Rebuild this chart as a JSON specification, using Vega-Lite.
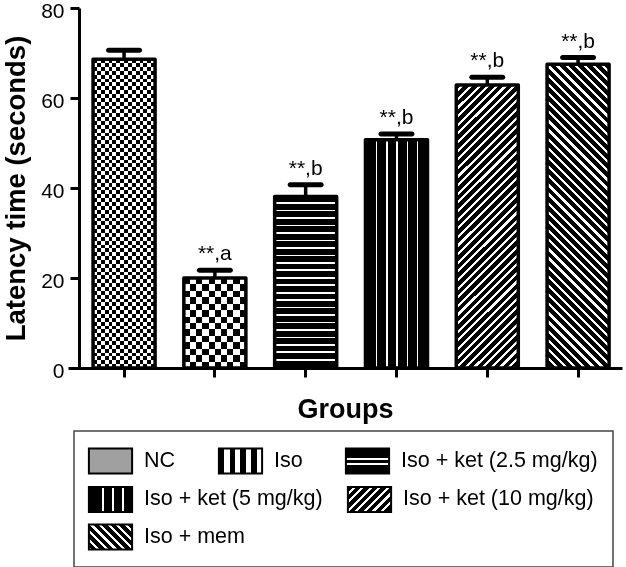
{
"$schema":"https://vega.github.io/schema/vega-lite/v6.json",
"autosize":"none",
"width":554,"height":360,
"padding":{"left":68,"top":8,"right":4,"bottom":199},
"background":"white",
"config":{"font":"Liberation Sans","view":{"stroke":null},
"legend":{"direction":"horizontal","orient":"none","symbolType":"M-1.6,-0.93H1.6V0.93H-1.6Z","symbolSize":729,"symbolOffset":7,"symbolStrokeColor":"black","symbolStrokeWidth":2,"labelOffset":19,"labelFontSize":21.5,"labelColor":"black","labelLimit":400,"strokeWidth":1.5}},
"data":{"values":[
{"group":"NC","mean":68.6,"upper":70.6,"label":""},
{"group":"Iso","mean":20.0,"upper":21.7,"label":"**,a"},
{"group":"Iso + ket (2.5 mg/kg)","mean":38.1,"upper":40.7,"label":"**,b"},
{"group":"Iso + ket (5 mg/kg)","mean":50.7,"upper":52.0,"label":"**,b"},
{"group":"Iso + ket (10 mg/kg)","mean":62.9,"upper":64.6,"label":"**,b"},
{"group":"Iso + mem","mean":67.5,"upper":69.0,"label":"**,b"}
]},
"encoding":{"x":{"field":"group","type":"nominal","sort":null,
"scale":{"paddingInner":0.317,"paddingOuter":0.209,"align":0.66},
"axis":{"title":"Groups","labels":false,"domainColor":"black","domainWidth":3,"tickColor":"black","tickWidth":3,"tickSize":9,"titleFontSize":27,"titleFontWeight":"bold","titleColor":"black","titlePadding":18}}},
"layer":[
{"transform":[{"filter":{"field":"group","oneOf":["NC","Iso","Iso + ket (2.5 mg/kg)"]}}],
"mark":{"type":"bar"},
"encoding":{
"y":{"field":"mean","type":"quantitative","title":"Latency time (seconds)","scale":{"domain":[0,80],"nice":false},
"axis":{"values":[0,20,40,60,80],"grid":false,"offset":-11,"domainColor":"black","domainWidth":3,"tickColor":"black","tickWidth":3,"tickSize":9,"labelFontSize":21,"labelColor":"black","labelPadding":6,"labelOffset":3,"titleFontSize":27.5,"titleFontWeight":"bold","titleColor":"black","titlePadding":10}},
"fill":{"field":"group","type":"nominal","scale":{"domain":["NC","Iso","Iso + ket (2.5 mg/kg)"],"range":["#a0a0a0",
{"expr":"{gradient:'linear',x1:0,y1:0,x2:1,y2:0,stops:[{offset:0.125,color:'#000'},{offset:0.125,color:'#fff'},{offset:0.25,color:'#fff'},{offset:0.25,color:'#000'},{offset:0.375,color:'#000'},{offset:0.375,color:'#fff'},{offset:0.5,color:'#fff'},{offset:0.5,color:'#000'},{offset:0.625,color:'#000'},{offset:0.625,color:'#fff'},{offset:0.75,color:'#fff'},{offset:0.75,color:'#000'},{offset:0.875,color:'#000'},{offset:0.875,color:'#fff'}]}"},
{"expr":"{gradient:'linear',x1:0,y1:0,x2:0,y2:1,stops:[{offset:0.4,color:'#000'},{offset:0.4,color:'#fff'},{offset:0.48,color:'#fff'},{offset:0.48,color:'#000'},{offset:0.6,color:'#000'},{offset:0.6,color:'#fff'},{offset:0.68,color:'#fff'},{offset:0.68,color:'#000'}]}"}]},
"legend":{"title":"                                ","titleOrient":"bottom","titleFontSize":58.3,"titlePadding":16,"legendX":6,"legendY":423,"padding":15,"columnPadding":38,"strokeColor":"#444"}}
}},
{"transform":[{"filter":{"field":"group","oneOf":["Iso + ket (5 mg/kg)","Iso + ket (10 mg/kg)"]}}],
"mark":{"type":"bar"},
"encoding":{
"y":{"field":"mean","type":"quantitative","title":"Latency time (seconds)"},
"fill":{"field":"group","type":"nominal","scale":{"domain":["Iso + ket (5 mg/kg)","Iso + ket (10 mg/kg)"],"range":[
{"expr":"{gradient:'linear',x1:0,y1:0,x2:1,y2:0,stops:[{offset:0.3,color:'#000'},{offset:0.3,color:'#fff'},{offset:0.35,color:'#fff'},{offset:0.35,color:'#000'},{offset:0.53,color:'#000'},{offset:0.53,color:'#fff'},{offset:0.58,color:'#fff'},{offset:0.58,color:'#000'},{offset:0.76,color:'#000'},{offset:0.76,color:'#fff'},{offset:0.81,color:'#fff'},{offset:0.81,color:'#000'}]}"},
{"expr":"{gradient:'linear',x1:0,y1:0,x2:1.182,y2:0.687,stops:[{offset:0.08,color:'#000'},{offset:0.08,color:'#fff'},{offset:0.125,color:'#fff'},{offset:0.125,color:'#000'},{offset:0.205,color:'#000'},{offset:0.205,color:'#fff'},{offset:0.25,color:'#fff'},{offset:0.25,color:'#000'},{offset:0.33,color:'#000'},{offset:0.33,color:'#fff'},{offset:0.375,color:'#fff'},{offset:0.375,color:'#000'},{offset:0.455,color:'#000'},{offset:0.455,color:'#fff'},{offset:0.5,color:'#fff'},{offset:0.5,color:'#000'},{offset:0.58,color:'#000'},{offset:0.58,color:'#fff'},{offset:0.625,color:'#fff'},{offset:0.625,color:'#000'},{offset:0.705,color:'#000'},{offset:0.705,color:'#fff'},{offset:0.75,color:'#fff'},{offset:0.75,color:'#000'},{offset:0.83,color:'#000'},{offset:0.83,color:'#fff'},{offset:0.875,color:'#fff'},{offset:0.875,color:'#000'},{offset:0.955,color:'#000'},{offset:0.955,color:'#fff'}]}"}]},
"legend":{"title":null,"legendX":21,"legendY":476.5,"padding":0,"columnPadding":20}}
}},
{"transform":[{"filter":{"field":"group","oneOf":["Iso + mem"]}}],
"mark":{"type":"bar"},
"encoding":{
"y":{"field":"mean","type":"quantitative","title":"Latency time (seconds)"},
"fill":{"field":"group","type":"nominal","scale":{"domain":["Iso + mem"],"range":[
{"expr":"{gradient:'linear',x1:1,y1:0,x2:-0.182,y2:0.687,stops:[{offset:0.08,color:'#000'},{offset:0.08,color:'#fff'},{offset:0.125,color:'#fff'},{offset:0.125,color:'#000'},{offset:0.205,color:'#000'},{offset:0.205,color:'#fff'},{offset:0.25,color:'#fff'},{offset:0.25,color:'#000'},{offset:0.33,color:'#000'},{offset:0.33,color:'#fff'},{offset:0.375,color:'#fff'},{offset:0.375,color:'#000'},{offset:0.455,color:'#000'},{offset:0.455,color:'#fff'},{offset:0.5,color:'#fff'},{offset:0.5,color:'#000'},{offset:0.58,color:'#000'},{offset:0.58,color:'#fff'},{offset:0.625,color:'#fff'},{offset:0.625,color:'#000'},{offset:0.705,color:'#000'},{offset:0.705,color:'#fff'},{offset:0.75,color:'#fff'},{offset:0.75,color:'#000'},{offset:0.83,color:'#000'},{offset:0.83,color:'#fff'},{offset:0.875,color:'#fff'},{offset:0.875,color:'#000'},{offset:0.955,color:'#000'},{offset:0.955,color:'#fff'}]}"}]},
"legend":{"title":null,"legendX":21,"legendY":514.5,"padding":0}}
}},
{"transform":[{"filter":"datum.group === 'NC'"}],
"mark":{"type":"bar","fill":{"gradient":"linear","x1":0,"y1":0,"x2":0,"y2":1,"stops":[
{"offset":0.0125,"color":"#000"},{"offset":0.0125,"color":"#fff"},{"offset":0.025,"color":"#fff"},{"offset":0.025,"color":"#000"},
{"offset":0.0375,"color":"#000"},{"offset":0.0375,"color":"#fff"},{"offset":0.05,"color":"#fff"},{"offset":0.05,"color":"#000"},
{"offset":0.0625,"color":"#000"},{"offset":0.0625,"color":"#fff"},{"offset":0.075,"color":"#fff"},{"offset":0.075,"color":"#000"},
{"offset":0.0875,"color":"#000"},{"offset":0.0875,"color":"#fff"},{"offset":0.1,"color":"#fff"},{"offset":0.1,"color":"#000"},
{"offset":0.1125,"color":"#000"},{"offset":0.1125,"color":"#fff"},{"offset":0.125,"color":"#fff"},{"offset":0.125,"color":"#000"},
{"offset":0.1375,"color":"#000"},{"offset":0.1375,"color":"#fff"},{"offset":0.15,"color":"#fff"},{"offset":0.15,"color":"#000"},
{"offset":0.1625,"color":"#000"},{"offset":0.1625,"color":"#fff"},{"offset":0.175,"color":"#fff"},{"offset":0.175,"color":"#000"},
{"offset":0.1875,"color":"#000"},{"offset":0.1875,"color":"#fff"},{"offset":0.2,"color":"#fff"},{"offset":0.2,"color":"#000"},
{"offset":0.2125,"color":"#000"},{"offset":0.2125,"color":"#fff"},{"offset":0.225,"color":"#fff"},{"offset":0.225,"color":"#000"},
{"offset":0.2375,"color":"#000"},{"offset":0.2375,"color":"#fff"},{"offset":0.25,"color":"#fff"},{"offset":0.25,"color":"#000"},
{"offset":0.2625,"color":"#000"},{"offset":0.2625,"color":"#fff"},{"offset":0.275,"color":"#fff"},{"offset":0.275,"color":"#000"},
{"offset":0.2875,"color":"#000"},{"offset":0.2875,"color":"#fff"},{"offset":0.3,"color":"#fff"},{"offset":0.3,"color":"#000"},
{"offset":0.3125,"color":"#000"},{"offset":0.3125,"color":"#fff"},{"offset":0.325,"color":"#fff"},{"offset":0.325,"color":"#000"},
{"offset":0.3375,"color":"#000"},{"offset":0.3375,"color":"#fff"},{"offset":0.35,"color":"#fff"},{"offset":0.35,"color":"#000"},
{"offset":0.3625,"color":"#000"},{"offset":0.3625,"color":"#fff"},{"offset":0.375,"color":"#fff"},{"offset":0.375,"color":"#000"},
{"offset":0.3875,"color":"#000"},{"offset":0.3875,"color":"#fff"},{"offset":0.4,"color":"#fff"},{"offset":0.4,"color":"#000"},
{"offset":0.4125,"color":"#000"},{"offset":0.4125,"color":"#fff"},{"offset":0.425,"color":"#fff"},{"offset":0.425,"color":"#000"},
{"offset":0.4375,"color":"#000"},{"offset":0.4375,"color":"#fff"},{"offset":0.45,"color":"#fff"},{"offset":0.45,"color":"#000"},
{"offset":0.4625,"color":"#000"},{"offset":0.4625,"color":"#fff"},{"offset":0.475,"color":"#fff"},{"offset":0.475,"color":"#000"},
{"offset":0.4875,"color":"#000"},{"offset":0.4875,"color":"#fff"},{"offset":0.5,"color":"#fff"},{"offset":0.5,"color":"#000"},
{"offset":0.5125,"color":"#000"},{"offset":0.5125,"color":"#fff"},{"offset":0.525,"color":"#fff"},{"offset":0.525,"color":"#000"},
{"offset":0.5375,"color":"#000"},{"offset":0.5375,"color":"#fff"},{"offset":0.55,"color":"#fff"},{"offset":0.55,"color":"#000"},
{"offset":0.5625,"color":"#000"},{"offset":0.5625,"color":"#fff"},{"offset":0.575,"color":"#fff"},{"offset":0.575,"color":"#000"},
{"offset":0.5875,"color":"#000"},{"offset":0.5875,"color":"#fff"},{"offset":0.6,"color":"#fff"},{"offset":0.6,"color":"#000"},
{"offset":0.6125,"color":"#000"},{"offset":0.6125,"color":"#fff"},{"offset":0.625,"color":"#fff"},{"offset":0.625,"color":"#000"},
{"offset":0.6375,"color":"#000"},{"offset":0.6375,"color":"#fff"},{"offset":0.65,"color":"#fff"},{"offset":0.65,"color":"#000"},
{"offset":0.6625,"color":"#000"},{"offset":0.6625,"color":"#fff"},{"offset":0.675,"color":"#fff"},{"offset":0.675,"color":"#000"},
{"offset":0.6875,"color":"#000"},{"offset":0.6875,"color":"#fff"},{"offset":0.7,"color":"#fff"},{"offset":0.7,"color":"#000"},
{"offset":0.7125,"color":"#000"},{"offset":0.7125,"color":"#fff"},{"offset":0.725,"color":"#fff"},{"offset":0.725,"color":"#000"},
{"offset":0.7375,"color":"#000"},{"offset":0.7375,"color":"#fff"},{"offset":0.75,"color":"#fff"},{"offset":0.75,"color":"#000"},
{"offset":0.7625,"color":"#000"},{"offset":0.7625,"color":"#fff"},{"offset":0.775,"color":"#fff"},{"offset":0.775,"color":"#000"},
{"offset":0.7875,"color":"#000"},{"offset":0.7875,"color":"#fff"},{"offset":0.8,"color":"#fff"},{"offset":0.8,"color":"#000"},
{"offset":0.8125,"color":"#000"},{"offset":0.8125,"color":"#fff"},{"offset":0.825,"color":"#fff"},{"offset":0.825,"color":"#000"},
{"offset":0.8375,"color":"#000"},{"offset":0.8375,"color":"#fff"},{"offset":0.85,"color":"#fff"},{"offset":0.85,"color":"#000"},
{"offset":0.8625,"color":"#000"},{"offset":0.8625,"color":"#fff"},{"offset":0.875,"color":"#fff"},{"offset":0.875,"color":"#000"},
{"offset":0.8875,"color":"#000"},{"offset":0.8875,"color":"#fff"},{"offset":0.9,"color":"#fff"},{"offset":0.9,"color":"#000"},
{"offset":0.9125,"color":"#000"},{"offset":0.9125,"color":"#fff"},{"offset":0.925,"color":"#fff"},{"offset":0.925,"color":"#000"},
{"offset":0.9375,"color":"#000"},{"offset":0.9375,"color":"#fff"},{"offset":0.95,"color":"#fff"},{"offset":0.95,"color":"#000"},
{"offset":0.9625,"color":"#000"},{"offset":0.9625,"color":"#fff"},{"offset":0.975,"color":"#fff"},{"offset":0.975,"color":"#000"},
{"offset":0.9875,"color":"#000"},{"offset":0.9875,"color":"#fff"}]}},
"encoding":{"y":{"field":"mean","type":"quantitative","title":"Latency time (seconds)"}}},
{"transform":[{"filter":"datum.group === 'Iso'"}],
"mark":{"type":"bar","fill":{"gradient":"linear","x1":0,"y1":0,"x2":0,"y2":1,"stops":[
{"offset":0.0714,"color":"#000"},{"offset":0.0714,"color":"#fff"},{"offset":0.1429,"color":"#fff"},{"offset":0.1429,"color":"#000"},
{"offset":0.2143,"color":"#000"},{"offset":0.2143,"color":"#fff"},{"offset":0.2857,"color":"#fff"},{"offset":0.2857,"color":"#000"},
{"offset":0.3571,"color":"#000"},{"offset":0.3571,"color":"#fff"},{"offset":0.4286,"color":"#fff"},{"offset":0.4286,"color":"#000"},
{"offset":0.5,"color":"#000"},{"offset":0.5,"color":"#fff"},{"offset":0.5714,"color":"#fff"},{"offset":0.5714,"color":"#000"},
{"offset":0.6429,"color":"#000"},{"offset":0.6429,"color":"#fff"},{"offset":0.7143,"color":"#fff"},{"offset":0.7143,"color":"#000"},
{"offset":0.7857,"color":"#000"},{"offset":0.7857,"color":"#fff"},{"offset":0.8571,"color":"#fff"},{"offset":0.8571,"color":"#000"},
{"offset":0.9286,"color":"#000"},{"offset":0.9286,"color":"#fff"}]}},
"encoding":{"y":{"field":"mean","type":"quantitative","title":"Latency time (seconds)"}}},
{"transform":[{"filter":"datum.group === 'Iso + ket (2.5 mg/kg)'"}],
"mark":{"type":"bar","fill":{"gradient":"linear","x1":0,"y1":0,"x2":0,"y2":1,"stops":[
{"offset":0.0335,"color":"#000"},{"offset":0.0335,"color":"#fff"},{"offset":0.0435,"color":"#fff"},{"offset":0.0435,"color":"#000"},
{"offset":0.077,"color":"#000"},{"offset":0.077,"color":"#fff"},{"offset":0.087,"color":"#fff"},{"offset":0.087,"color":"#000"},
{"offset":0.1205,"color":"#000"},{"offset":0.1205,"color":"#fff"},{"offset":0.1305,"color":"#fff"},{"offset":0.1305,"color":"#000"},
{"offset":0.164,"color":"#000"},{"offset":0.164,"color":"#fff"},{"offset":0.174,"color":"#fff"},{"offset":0.174,"color":"#000"},
{"offset":0.2075,"color":"#000"},{"offset":0.2075,"color":"#fff"},{"offset":0.2175,"color":"#fff"},{"offset":0.2175,"color":"#000"},
{"offset":0.251,"color":"#000"},{"offset":0.251,"color":"#fff"},{"offset":0.261,"color":"#fff"},{"offset":0.261,"color":"#000"},
{"offset":0.2945,"color":"#000"},{"offset":0.2945,"color":"#fff"},{"offset":0.3045,"color":"#fff"},{"offset":0.3045,"color":"#000"},
{"offset":0.338,"color":"#000"},{"offset":0.338,"color":"#fff"},{"offset":0.348,"color":"#fff"},{"offset":0.348,"color":"#000"},
{"offset":0.3815,"color":"#000"},{"offset":0.3815,"color":"#fff"},{"offset":0.3915,"color":"#fff"},{"offset":0.3915,"color":"#000"},
{"offset":0.425,"color":"#000"},{"offset":0.425,"color":"#fff"},{"offset":0.435,"color":"#fff"},{"offset":0.435,"color":"#000"},
{"offset":0.4685,"color":"#000"},{"offset":0.4685,"color":"#fff"},{"offset":0.4785,"color":"#fff"},{"offset":0.4785,"color":"#000"},
{"offset":0.512,"color":"#000"},{"offset":0.512,"color":"#fff"},{"offset":0.522,"color":"#fff"},{"offset":0.522,"color":"#000"},
{"offset":0.5555,"color":"#000"},{"offset":0.5555,"color":"#fff"},{"offset":0.5655,"color":"#fff"},{"offset":0.5655,"color":"#000"},
{"offset":0.599,"color":"#000"},{"offset":0.599,"color":"#fff"},{"offset":0.609,"color":"#fff"},{"offset":0.609,"color":"#000"},
{"offset":0.6425,"color":"#000"},{"offset":0.6425,"color":"#fff"},{"offset":0.6525,"color":"#fff"},{"offset":0.6525,"color":"#000"},
{"offset":0.686,"color":"#000"},{"offset":0.686,"color":"#fff"},{"offset":0.696,"color":"#fff"},{"offset":0.696,"color":"#000"},
{"offset":0.7295,"color":"#000"},{"offset":0.7295,"color":"#fff"},{"offset":0.7395,"color":"#fff"},{"offset":0.7395,"color":"#000"},
{"offset":0.773,"color":"#000"},{"offset":0.773,"color":"#fff"},{"offset":0.783,"color":"#fff"},{"offset":0.783,"color":"#000"},
{"offset":0.8165,"color":"#000"},{"offset":0.8165,"color":"#fff"},{"offset":0.8265,"color":"#fff"},{"offset":0.8265,"color":"#000"},
{"offset":0.86,"color":"#000"},{"offset":0.86,"color":"#fff"},{"offset":0.87,"color":"#fff"},{"offset":0.87,"color":"#000"},
{"offset":0.9035,"color":"#000"},{"offset":0.9035,"color":"#fff"},{"offset":0.9135,"color":"#fff"},{"offset":0.9135,"color":"#000"},
{"offset":0.947,"color":"#000"},{"offset":0.947,"color":"#fff"},{"offset":0.957,"color":"#fff"},{"offset":0.957,"color":"#000"}]}},
"encoding":{"y":{"field":"mean","type":"quantitative","title":"Latency time (seconds)"}}},
{"transform":[{"filter":"datum.group === 'Iso + ket (5 mg/kg)'"}],
"mark":{"type":"bar","fill":{"gradient":"linear","x1":0,"y1":0,"x2":1,"y2":0,"stops":[
{"offset":0.165,"color":"#000"},{"offset":0.165,"color":"#fff"},{"offset":0.19,"color":"#fff"},{"offset":0.19,"color":"#000"},
{"offset":0.335,"color":"#000"},{"offset":0.335,"color":"#fff"},{"offset":0.36,"color":"#fff"},{"offset":0.36,"color":"#000"},
{"offset":0.5,"color":"#000"},{"offset":0.5,"color":"#fff"},{"offset":0.525,"color":"#fff"},{"offset":0.525,"color":"#000"},
{"offset":0.665,"color":"#000"},{"offset":0.665,"color":"#fff"},{"offset":0.69,"color":"#fff"},{"offset":0.69,"color":"#000"},
{"offset":0.83,"color":"#000"},{"offset":0.83,"color":"#fff"},{"offset":0.855,"color":"#fff"},{"offset":0.855,"color":"#000"}]}},
"encoding":{"y":{"field":"mean","type":"quantitative","title":"Latency time (seconds)"}}},
{"transform":[{"filter":"datum.group === 'Iso + ket (10 mg/kg)'"}],
"mark":{"type":"bar","fill":{"gradient":"linear","x1":0,"y1":0,"x2":0.2544,"y2":1.1631,"stops":[
{"offset":0.016,"color":"#000"},{"offset":0.016,"color":"#fff"},{"offset":0.025,"color":"#fff"},{"offset":0.025,"color":"#000"},
{"offset":0.041,"color":"#000"},{"offset":0.041,"color":"#fff"},{"offset":0.05,"color":"#fff"},{"offset":0.05,"color":"#000"},
{"offset":0.066,"color":"#000"},{"offset":0.066,"color":"#fff"},{"offset":0.075,"color":"#fff"},{"offset":0.075,"color":"#000"},
{"offset":0.091,"color":"#000"},{"offset":0.091,"color":"#fff"},{"offset":0.1,"color":"#fff"},{"offset":0.1,"color":"#000"},
{"offset":0.116,"color":"#000"},{"offset":0.116,"color":"#fff"},{"offset":0.125,"color":"#fff"},{"offset":0.125,"color":"#000"},
{"offset":0.141,"color":"#000"},{"offset":0.141,"color":"#fff"},{"offset":0.15,"color":"#fff"},{"offset":0.15,"color":"#000"},
{"offset":0.166,"color":"#000"},{"offset":0.166,"color":"#fff"},{"offset":0.175,"color":"#fff"},{"offset":0.175,"color":"#000"},
{"offset":0.191,"color":"#000"},{"offset":0.191,"color":"#fff"},{"offset":0.2,"color":"#fff"},{"offset":0.2,"color":"#000"},
{"offset":0.216,"color":"#000"},{"offset":0.216,"color":"#fff"},{"offset":0.225,"color":"#fff"},{"offset":0.225,"color":"#000"},
{"offset":0.241,"color":"#000"},{"offset":0.241,"color":"#fff"},{"offset":0.25,"color":"#fff"},{"offset":0.25,"color":"#000"},
{"offset":0.266,"color":"#000"},{"offset":0.266,"color":"#fff"},{"offset":0.275,"color":"#fff"},{"offset":0.275,"color":"#000"},
{"offset":0.291,"color":"#000"},{"offset":0.291,"color":"#fff"},{"offset":0.3,"color":"#fff"},{"offset":0.3,"color":"#000"},
{"offset":0.316,"color":"#000"},{"offset":0.316,"color":"#fff"},{"offset":0.325,"color":"#fff"},{"offset":0.325,"color":"#000"},
{"offset":0.341,"color":"#000"},{"offset":0.341,"color":"#fff"},{"offset":0.35,"color":"#fff"},{"offset":0.35,"color":"#000"},
{"offset":0.366,"color":"#000"},{"offset":0.366,"color":"#fff"},{"offset":0.375,"color":"#fff"},{"offset":0.375,"color":"#000"},
{"offset":0.391,"color":"#000"},{"offset":0.391,"color":"#fff"},{"offset":0.4,"color":"#fff"},{"offset":0.4,"color":"#000"},
{"offset":0.416,"color":"#000"},{"offset":0.416,"color":"#fff"},{"offset":0.425,"color":"#fff"},{"offset":0.425,"color":"#000"},
{"offset":0.441,"color":"#000"},{"offset":0.441,"color":"#fff"},{"offset":0.45,"color":"#fff"},{"offset":0.45,"color":"#000"},
{"offset":0.466,"color":"#000"},{"offset":0.466,"color":"#fff"},{"offset":0.475,"color":"#fff"},{"offset":0.475,"color":"#000"},
{"offset":0.491,"color":"#000"},{"offset":0.491,"color":"#fff"},{"offset":0.5,"color":"#fff"},{"offset":0.5,"color":"#000"},
{"offset":0.516,"color":"#000"},{"offset":0.516,"color":"#fff"},{"offset":0.525,"color":"#fff"},{"offset":0.525,"color":"#000"},
{"offset":0.541,"color":"#000"},{"offset":0.541,"color":"#fff"},{"offset":0.55,"color":"#fff"},{"offset":0.55,"color":"#000"},
{"offset":0.566,"color":"#000"},{"offset":0.566,"color":"#fff"},{"offset":0.575,"color":"#fff"},{"offset":0.575,"color":"#000"},
{"offset":0.591,"color":"#000"},{"offset":0.591,"color":"#fff"},{"offset":0.6,"color":"#fff"},{"offset":0.6,"color":"#000"},
{"offset":0.616,"color":"#000"},{"offset":0.616,"color":"#fff"},{"offset":0.625,"color":"#fff"},{"offset":0.625,"color":"#000"},
{"offset":0.641,"color":"#000"},{"offset":0.641,"color":"#fff"},{"offset":0.65,"color":"#fff"},{"offset":0.65,"color":"#000"},
{"offset":0.666,"color":"#000"},{"offset":0.666,"color":"#fff"},{"offset":0.675,"color":"#fff"},{"offset":0.675,"color":"#000"},
{"offset":0.691,"color":"#000"},{"offset":0.691,"color":"#fff"},{"offset":0.7,"color":"#fff"},{"offset":0.7,"color":"#000"},
{"offset":0.716,"color":"#000"},{"offset":0.716,"color":"#fff"},{"offset":0.725,"color":"#fff"},{"offset":0.725,"color":"#000"},
{"offset":0.741,"color":"#000"},{"offset":0.741,"color":"#fff"},{"offset":0.75,"color":"#fff"},{"offset":0.75,"color":"#000"},
{"offset":0.766,"color":"#000"},{"offset":0.766,"color":"#fff"},{"offset":0.775,"color":"#fff"},{"offset":0.775,"color":"#000"},
{"offset":0.791,"color":"#000"},{"offset":0.791,"color":"#fff"},{"offset":0.8,"color":"#fff"},{"offset":0.8,"color":"#000"},
{"offset":0.816,"color":"#000"},{"offset":0.816,"color":"#fff"},{"offset":0.825,"color":"#fff"},{"offset":0.825,"color":"#000"},
{"offset":0.841,"color":"#000"},{"offset":0.841,"color":"#fff"},{"offset":0.85,"color":"#fff"},{"offset":0.85,"color":"#000"},
{"offset":0.866,"color":"#000"},{"offset":0.866,"color":"#fff"},{"offset":0.875,"color":"#fff"},{"offset":0.875,"color":"#000"},
{"offset":0.891,"color":"#000"},{"offset":0.891,"color":"#fff"},{"offset":0.9,"color":"#fff"},{"offset":0.9,"color":"#000"},
{"offset":0.916,"color":"#000"},{"offset":0.916,"color":"#fff"},{"offset":0.925,"color":"#fff"},{"offset":0.925,"color":"#000"},
{"offset":0.941,"color":"#000"},{"offset":0.941,"color":"#fff"},{"offset":0.95,"color":"#fff"},{"offset":0.95,"color":"#000"},
{"offset":0.966,"color":"#000"},{"offset":0.966,"color":"#fff"},{"offset":0.975,"color":"#fff"},{"offset":0.975,"color":"#000"},
{"offset":0.991,"color":"#000"},{"offset":0.991,"color":"#fff"}]}},
"encoding":{"y":{"field":"mean","type":"quantitative","title":"Latency time (seconds)"}}},
{"transform":[{"filter":"datum.group === 'Iso + mem'"}],
"mark":{"type":"bar","fill":{"gradient":"linear","x1":1,"y1":0,"x2":0.764,"y2":1.156,"stops":[
{"offset":0.016,"color":"#000"},{"offset":0.016,"color":"#fff"},{"offset":0.025,"color":"#fff"},{"offset":0.025,"color":"#000"},
{"offset":0.041,"color":"#000"},{"offset":0.041,"color":"#fff"},{"offset":0.05,"color":"#fff"},{"offset":0.05,"color":"#000"},
{"offset":0.066,"color":"#000"},{"offset":0.066,"color":"#fff"},{"offset":0.075,"color":"#fff"},{"offset":0.075,"color":"#000"},
{"offset":0.091,"color":"#000"},{"offset":0.091,"color":"#fff"},{"offset":0.1,"color":"#fff"},{"offset":0.1,"color":"#000"},
{"offset":0.116,"color":"#000"},{"offset":0.116,"color":"#fff"},{"offset":0.125,"color":"#fff"},{"offset":0.125,"color":"#000"},
{"offset":0.141,"color":"#000"},{"offset":0.141,"color":"#fff"},{"offset":0.15,"color":"#fff"},{"offset":0.15,"color":"#000"},
{"offset":0.166,"color":"#000"},{"offset":0.166,"color":"#fff"},{"offset":0.175,"color":"#fff"},{"offset":0.175,"color":"#000"},
{"offset":0.191,"color":"#000"},{"offset":0.191,"color":"#fff"},{"offset":0.2,"color":"#fff"},{"offset":0.2,"color":"#000"},
{"offset":0.216,"color":"#000"},{"offset":0.216,"color":"#fff"},{"offset":0.225,"color":"#fff"},{"offset":0.225,"color":"#000"},
{"offset":0.241,"color":"#000"},{"offset":0.241,"color":"#fff"},{"offset":0.25,"color":"#fff"},{"offset":0.25,"color":"#000"},
{"offset":0.266,"color":"#000"},{"offset":0.266,"color":"#fff"},{"offset":0.275,"color":"#fff"},{"offset":0.275,"color":"#000"},
{"offset":0.291,"color":"#000"},{"offset":0.291,"color":"#fff"},{"offset":0.3,"color":"#fff"},{"offset":0.3,"color":"#000"},
{"offset":0.316,"color":"#000"},{"offset":0.316,"color":"#fff"},{"offset":0.325,"color":"#fff"},{"offset":0.325,"color":"#000"},
{"offset":0.341,"color":"#000"},{"offset":0.341,"color":"#fff"},{"offset":0.35,"color":"#fff"},{"offset":0.35,"color":"#000"},
{"offset":0.366,"color":"#000"},{"offset":0.366,"color":"#fff"},{"offset":0.375,"color":"#fff"},{"offset":0.375,"color":"#000"},
{"offset":0.391,"color":"#000"},{"offset":0.391,"color":"#fff"},{"offset":0.4,"color":"#fff"},{"offset":0.4,"color":"#000"},
{"offset":0.416,"color":"#000"},{"offset":0.416,"color":"#fff"},{"offset":0.425,"color":"#fff"},{"offset":0.425,"color":"#000"},
{"offset":0.441,"color":"#000"},{"offset":0.441,"color":"#fff"},{"offset":0.45,"color":"#fff"},{"offset":0.45,"color":"#000"},
{"offset":0.466,"color":"#000"},{"offset":0.466,"color":"#fff"},{"offset":0.475,"color":"#fff"},{"offset":0.475,"color":"#000"},
{"offset":0.491,"color":"#000"},{"offset":0.491,"color":"#fff"},{"offset":0.5,"color":"#fff"},{"offset":0.5,"color":"#000"},
{"offset":0.516,"color":"#000"},{"offset":0.516,"color":"#fff"},{"offset":0.525,"color":"#fff"},{"offset":0.525,"color":"#000"},
{"offset":0.541,"color":"#000"},{"offset":0.541,"color":"#fff"},{"offset":0.55,"color":"#fff"},{"offset":0.55,"color":"#000"},
{"offset":0.566,"color":"#000"},{"offset":0.566,"color":"#fff"},{"offset":0.575,"color":"#fff"},{"offset":0.575,"color":"#000"},
{"offset":0.591,"color":"#000"},{"offset":0.591,"color":"#fff"},{"offset":0.6,"color":"#fff"},{"offset":0.6,"color":"#000"},
{"offset":0.616,"color":"#000"},{"offset":0.616,"color":"#fff"},{"offset":0.625,"color":"#fff"},{"offset":0.625,"color":"#000"},
{"offset":0.641,"color":"#000"},{"offset":0.641,"color":"#fff"},{"offset":0.65,"color":"#fff"},{"offset":0.65,"color":"#000"},
{"offset":0.666,"color":"#000"},{"offset":0.666,"color":"#fff"},{"offset":0.675,"color":"#fff"},{"offset":0.675,"color":"#000"},
{"offset":0.691,"color":"#000"},{"offset":0.691,"color":"#fff"},{"offset":0.7,"color":"#fff"},{"offset":0.7,"color":"#000"},
{"offset":0.716,"color":"#000"},{"offset":0.716,"color":"#fff"},{"offset":0.725,"color":"#fff"},{"offset":0.725,"color":"#000"},
{"offset":0.741,"color":"#000"},{"offset":0.741,"color":"#fff"},{"offset":0.75,"color":"#fff"},{"offset":0.75,"color":"#000"},
{"offset":0.766,"color":"#000"},{"offset":0.766,"color":"#fff"},{"offset":0.775,"color":"#fff"},{"offset":0.775,"color":"#000"},
{"offset":0.791,"color":"#000"},{"offset":0.791,"color":"#fff"},{"offset":0.8,"color":"#fff"},{"offset":0.8,"color":"#000"},
{"offset":0.816,"color":"#000"},{"offset":0.816,"color":"#fff"},{"offset":0.825,"color":"#fff"},{"offset":0.825,"color":"#000"},
{"offset":0.841,"color":"#000"},{"offset":0.841,"color":"#fff"},{"offset":0.85,"color":"#fff"},{"offset":0.85,"color":"#000"},
{"offset":0.866,"color":"#000"},{"offset":0.866,"color":"#fff"},{"offset":0.875,"color":"#fff"},{"offset":0.875,"color":"#000"},
{"offset":0.891,"color":"#000"},{"offset":0.891,"color":"#fff"},{"offset":0.9,"color":"#fff"},{"offset":0.9,"color":"#000"},
{"offset":0.916,"color":"#000"},{"offset":0.916,"color":"#fff"},{"offset":0.925,"color":"#fff"},{"offset":0.925,"color":"#000"},
{"offset":0.941,"color":"#000"},{"offset":0.941,"color":"#fff"},{"offset":0.95,"color":"#fff"},{"offset":0.95,"color":"#000"},
{"offset":0.966,"color":"#000"},{"offset":0.966,"color":"#fff"},{"offset":0.975,"color":"#fff"},{"offset":0.975,"color":"#000"},
{"offset":0.991,"color":"#000"},{"offset":0.991,"color":"#fff"}]}},
"encoding":{"y":{"field":"mean","type":"quantitative","title":"Latency time (seconds)"}}},
{"transform":[{"filter":"datum.group === 'NC'"}],
"mark":{"type":"bar","blend":"difference","fill":{"gradient":"linear","x1":0,"y1":0,"x2":1,"y2":0,"stops":[
{"offset":0.0625,"color":"#000"},{"offset":0.0625,"color":"#fff"},{"offset":0.125,"color":"#fff"},{"offset":0.125,"color":"#000"},
{"offset":0.1875,"color":"#000"},{"offset":0.1875,"color":"#fff"},{"offset":0.25,"color":"#fff"},{"offset":0.25,"color":"#000"},
{"offset":0.3125,"color":"#000"},{"offset":0.3125,"color":"#fff"},{"offset":0.375,"color":"#fff"},{"offset":0.375,"color":"#000"},
{"offset":0.4375,"color":"#000"},{"offset":0.4375,"color":"#fff"},{"offset":0.5,"color":"#fff"},{"offset":0.5,"color":"#000"},
{"offset":0.5625,"color":"#000"},{"offset":0.5625,"color":"#fff"},{"offset":0.625,"color":"#fff"},{"offset":0.625,"color":"#000"},
{"offset":0.6875,"color":"#000"},{"offset":0.6875,"color":"#fff"},{"offset":0.75,"color":"#fff"},{"offset":0.75,"color":"#000"},
{"offset":0.8125,"color":"#000"},{"offset":0.8125,"color":"#fff"},{"offset":0.875,"color":"#fff"},{"offset":0.875,"color":"#000"},
{"offset":0.9375,"color":"#000"},{"offset":0.9375,"color":"#fff"}]}},
"encoding":{"y":{"field":"mean","type":"quantitative","title":"Latency time (seconds)"}}},
{"transform":[{"filter":"datum.group === 'Iso'"}],
"mark":{"type":"bar","blend":"difference","fill":{"gradient":"linear","x1":0,"y1":0,"x2":1,"y2":0,"stops":[
{"offset":0.1,"color":"#000"},{"offset":0.1,"color":"#fff"},{"offset":0.2,"color":"#fff"},{"offset":0.2,"color":"#000"},
{"offset":0.3,"color":"#000"},{"offset":0.3,"color":"#fff"},{"offset":0.4,"color":"#fff"},{"offset":0.4,"color":"#000"},
{"offset":0.5,"color":"#000"},{"offset":0.5,"color":"#fff"},{"offset":0.6,"color":"#fff"},{"offset":0.6,"color":"#000"},
{"offset":0.7,"color":"#000"},{"offset":0.7,"color":"#fff"},{"offset":0.8,"color":"#fff"},{"offset":0.8,"color":"#000"},
{"offset":0.9,"color":"#000"},{"offset":0.9,"color":"#fff"}]}},
"encoding":{"y":{"field":"mean","type":"quantitative","title":"Latency time (seconds)"}}},
{"mark":{"type":"bar","filled":false,"stroke":"black","strokeWidth":3.5,"strokeJoin":"round"},
"encoding":{"y":{"field":"mean","type":"quantitative","title":"Latency time (seconds)"}}},
{"mark":{"type":"rule","stroke":"black","strokeWidth":3.5},
"encoding":{"y":{"field":"mean","type":"quantitative","title":"Latency time (seconds)"},"y2":{"field":"upper"}}},
{"mark":{"type":"tick","color":"black","opacity":1,"size":36,"thickness":5,"cornerRadius":2.5},
"encoding":{"y":{"field":"upper","type":"quantitative","title":"Latency time (seconds)"}}},
{"mark":{"type":"text","dy":-10,"baseline":"alphabetic","fontSize":21,"color":"black"},
"encoding":{"y":{"field":"upper","type":"quantitative","title":"Latency time (seconds)"},"text":{"field":"label"}}}
],
"resolve":{"scale":{"fill":"independent"},"legend":{"fill":"independent"}}
}
